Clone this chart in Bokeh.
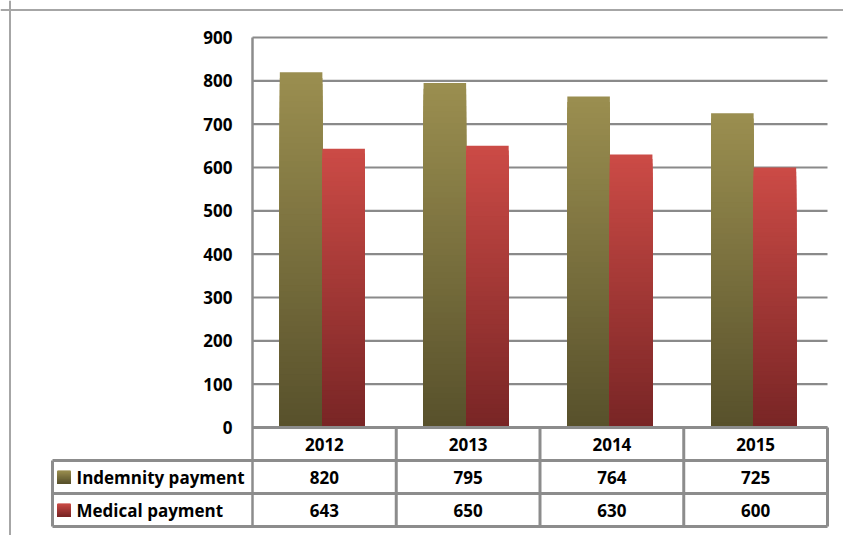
from bokeh.plotting import figure
from bokeh.models import ColumnDataSource, Range1d, Span
from bokeh.core.properties import value
from bokeh.embed import file_html
from bokeh.resources import INLINE

# ---------------- data ----------------
years = ["2012", "2013", "2014", "2015"]
indemnity = [820, 795, 764, 725]
medical = [643, 650, 630, 600]
series_names = ["Indemnity payment", "Medical payment"]
y_ticks = [0, 100, 200, 300, 400, 500, 600, 700, 800, 900]

# ---------------- style / layout ----------------
W, H = 843, 535
PX_X = 143.75          # pixels per category
PX_Y = 390.0 / 900.0   # pixels per value unit
X0_PX = 252            # canvas x of category axis start
Y0_PX = 427            # canvas y of value 0
ROW_PX = 33            # table row height (px)
LABEL_COL_PX = 200     # width of the label column (px)
BAR_W = 0.296
GROUP_SHIFT_PX = -2
FONT = "Open Sans"
FSIZE = "17px"
GRID_C = "#8a8a8a"
BORDER_C = "#8c8c8c"
OLIVE = ((0x9b, 0x8f, 0x50), (0x57, 0x50, 0x2b))   # top, bottom
RED = ((0xcc, 0x4b, 0x46), (0x78, 0x25, 0x25))
N_SLICES = 60

x_start = -X0_PX / PX_X
x_end = (W - X0_PX) / PX_X
y_end = Y0_PX / PX_Y
y_start = -(H - Y0_PX) / PX_Y
row_h = ROW_PX / PX_Y
label_left = -LABEL_COL_PX / PX_X
n_cat = len(years)

p = figure(width=W, height=H, x_range=Range1d(x_start, x_end),
           y_range=Range1d(y_start, y_end), output_backend="svg",
           toolbar_location=None, x_axis_location=None, y_axis_location=None,
           min_border=0)
p.grid.visible = False
p.outline_line_color = None
p.background_fill_color = "white"
p.border_fill_color = "white"


def mix(c_top, c_bot, f):
    r, g, b = (int(round(c_bot[i] + (c_top[i] - c_bot[i]) * f)) for i in range(3))
    return "#%02x%02x%02x" % (r, g, b)


def gradient_source(xs, bottoms, tops, colors):
    xx, bb, tt, cc = [], [], [], []
    for x, b0, t0 in zip(xs, bottoms, tops):
        for k in range(N_SLICES, 0, -1):
            f = k / N_SLICES
            xx.append(x)
            bb.append(b0)
            tt.append(b0 + (t0 - b0) * f)
            cc.append(mix(colors[0], colors[1], (k - 0.5) / N_SLICES))
    return ColumnDataSource(dict(x=xx, bottom=bb, top=tt, color=cc))


# grid lines
p.segment(x0=[0] * len(y_ticks), x1=[n_cat] * len(y_ticks), y0=y_ticks, y1=y_ticks,
          line_color=GRID_C, line_width=2.2)

# bars with vertical gradient
cat_centers = [i + 0.5 for i in range(n_cat)]
shift = GROUP_SHIFT_PX / PX_X
for vals, cols, off in ((indemnity, OLIVE, -BAR_W / 2), (medical, RED, BAR_W / 2)):
    src = gradient_source([c + off + shift for c in cat_centers], [0] * n_cat, vals, cols)
    p.vbar(x="x", width=BAR_W, bottom="bottom", top="top", source=src,
           fill_color="color", line_color=None)

# value axis line (continues as table border)
p.segment(x0=[0], x1=[0], y0=[max(y_ticks)], y1=[-3 * row_h],
          line_color=BORDER_C, line_width=2.5)

# table lines
p.segment(x0=[0], x1=[n_cat], y0=[0], y1=[0], line_color=BORDER_C, line_width=3)
p.segment(x0=[label_left] * 3, x1=[n_cat] * 3,
          y0=[-row_h, -2 * row_h, -3 * row_h], y1=[-row_h, -2 * row_h, -3 * row_h],
          line_color=BORDER_C, line_width=3)
p.segment(x0=list(range(1, n_cat + 1)), x1=list(range(1, n_cat + 1)),
          y0=[0] * n_cat, y1=[-3 * row_h] * n_cat, line_color=BORDER_C, line_width=3)
p.segment(x0=[label_left], x1=[label_left], y0=[-row_h], y1=[-3 * row_h],
          line_color=BORDER_C, line_width=3)

txt = dict(text_font=value(FONT), text_font_size=FSIZE, text_font_style="bold",
           text_color="black", text_baseline="middle")

# y tick labels
p.text(x=[0] * len(y_ticks), y=y_ticks, text=[str(t) for t in y_ticks],
       x_offset=-20, text_align="right", **txt)

# years
p.text(x=cat_centers, y=[-row_h / 2] * n_cat, text=years, text_align="center", **txt)

# values
for r, vals in enumerate((indemnity, medical)):
    p.text(x=cat_centers, y=[-row_h * (r + 1.5)] * n_cat, text=[str(v) for v in vals],
           text_align="center", **txt)

# row labels + legend keys
for r, (name, cols) in enumerate(zip(series_names, (OLIVE, RED))):
    yc = -row_h * (r + 1.5)
    p.text(x=[label_left], y=[yc], text=[name], x_offset=24, text_align="left", **txt)
    kx = label_left + 11.5 / PX_X
    src = gradient_source([kx], [yc - 6.5 / PX_Y], [yc + 6.5 / PX_Y], cols)
    p.vbar(x="x", width=13 / PX_X, bottom="bottom", top="top", source=src,
           fill_color="color", line_color=None)

# outer chart border (left and top edges)
p.add_layout(Span(location=x_start + 9.5 / PX_X, dimension="height",
                  line_color="#a6a6a6", line_width=2))
p.add_layout(Span(location=y_end - 9.5 / PX_Y, dimension="width",
                  line_color="#a6a6a6", line_width=2))

open("out.html", "w").write(file_html(p, INLINE))
